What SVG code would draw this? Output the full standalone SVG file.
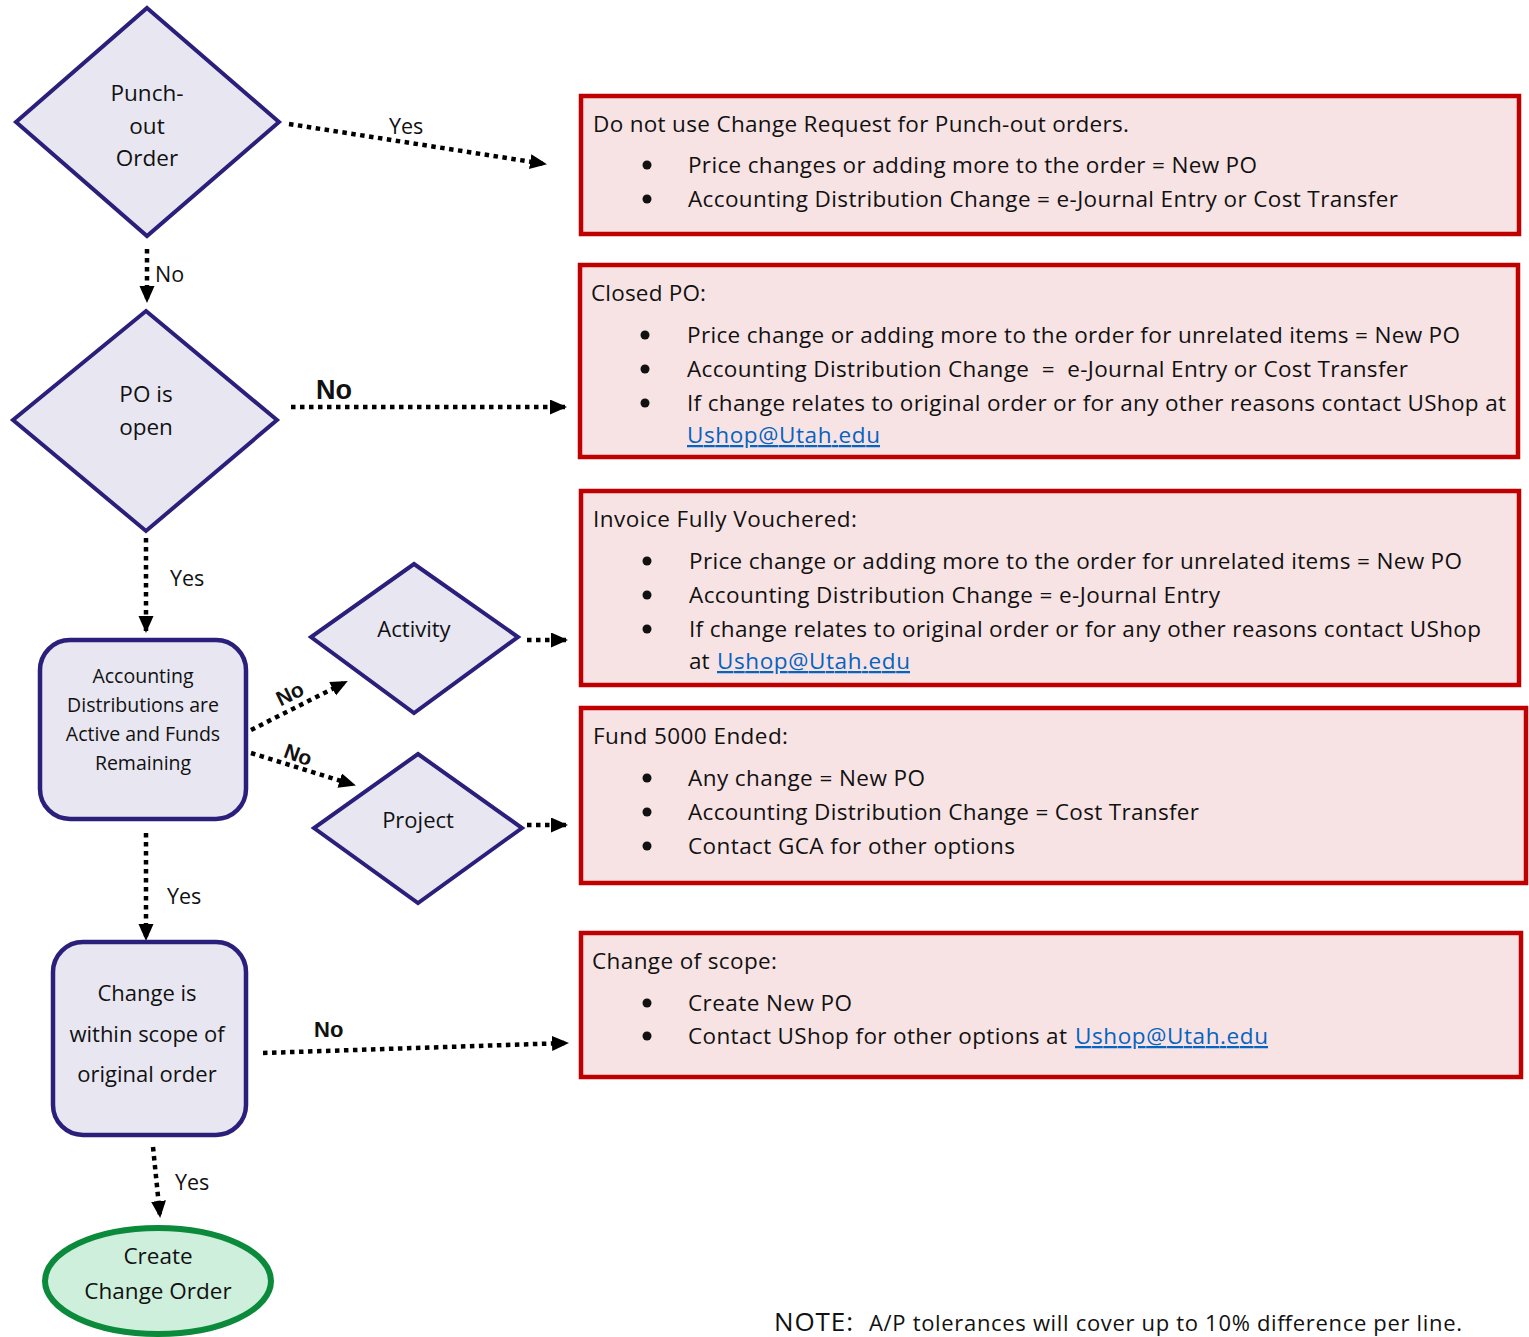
<svg xmlns="http://www.w3.org/2000/svg" width="1529" height="1337" viewBox="0 0 1529 1337">
<style>
.dec{fill:#E8E7F1;stroke:#2A1F7A;stroke-width:4;stroke-linejoin:miter}
.proc{fill:#E8E7F1;stroke:#2A1F7A;stroke-width:4.5}
.note{fill:#F8E3E4;stroke:#C00000;stroke-width:4.5}
.end{fill:#CDEFDB;stroke:#0B8A3C;stroke-width:6}
.t{font-family:"Open Sans","Noto Sans",sans-serif;fill:#111}
.c{text-anchor:middle}
.bx{font-size:22.5px}
.lnk{fill:#0563C1;text-decoration:underline}
.lbl{font-family:"Open Sans","Noto Sans",sans-serif;font-size:21.5px;fill:#111}
.bl{font-family:"Liberation Sans",Arial,sans-serif;font-weight:bold;fill:#111}
.con{fill:none;stroke:#000;stroke-width:4.5;stroke-dasharray:4.5 4.5;marker-end:url(#ah)}
.dot{fill:#111}
</style>
<defs>
<marker id="ah" markerUnits="userSpaceOnUse" markerWidth="18" markerHeight="16" refX="15" refY="7.5" orient="auto">
<path d="M0,0 L17,7.5 L0,15 z" fill="#000"/>
</marker>
</defs>
<rect width="1529" height="1337" fill="#fff"/>

<g id="connectors">
<line class="con" x1="289" y1="124" x2="545" y2="164"/>
<line class="con" x1="147" y1="249" x2="147" y2="301"/>
<line class="con" x1="291" y1="407" x2="565" y2="407"/>
<line class="con" x1="146" y1="538" x2="146" y2="631"/>
<line class="con" x1="251" y1="730" x2="346" y2="682"/>
<line class="con" x1="251" y1="753" x2="354" y2="785"/>
<line class="con" x1="527" y1="640" x2="566" y2="640"/>
<line class="con" x1="527" y1="825" x2="566" y2="825"/>
<line class="con" x1="146" y1="833" x2="146" y2="939"/>
<line class="con" x1="263" y1="1053" x2="567" y2="1043"/>
<line class="con" x1="153" y1="1147" x2="160" y2="1216"/>
<text class="lbl" x="389" y="134">Yes</text>
<text class="lbl" x="155" y="282">No</text>
<text class="bl" x="316" y="399" font-size="27">No</text>
<text class="lbl" x="170" y="586">Yes</text>
<text class="bl" x="290" y="701" font-size="21" text-anchor="middle" transform="rotate(-26 290 694)">No</text>
<text class="bl" x="298" y="762" font-size="21" text-anchor="middle" transform="rotate(20 298 755)">No</text>
<text class="lbl" x="167" y="904">Yes</text>
<text class="bl" x="314" y="1037" font-size="22">No</text>
<text class="lbl" x="175" y="1190">Yes</text>
</g>

<g id="punchout">
<polygon class="dec" points="147,8 279,122 147,236 16,122"/>
<text class="t c" x="147" y="101" font-size="22.5">Punch-</text>
<text class="t c" x="147" y="134" font-size="22.5">out</text>
<text class="t c" x="147" y="166" font-size="22.5">Order</text>
</g>

<g id="po-open">
<polygon class="dec" points="146,311 277,420 146,531 13,420"/>
<text class="t c" x="146" y="402" font-size="22.5">PO is</text>
<text class="t c" x="146" y="435" font-size="22.5">open</text>
</g>

<g id="accounting">
<rect class="proc" x="40" y="640" width="206" height="179" rx="30"/>
<text class="t c" x="143" y="683" font-size="19.5">Accounting</text>
<text class="t c" x="143" y="712" font-size="19.5">Distributions are</text>
<text class="t c" x="143" y="741" font-size="19.5">Active and Funds</text>
<text class="t c" x="143" y="770" font-size="19.5">Remaining</text>
</g>

<g id="activity">
<polygon class="dec" points="414,564 518,637 414,713 311,637"/>
<text class="t c" x="414" y="637" font-size="22">Activity</text>
</g>

<g id="project">
<polygon class="dec" points="418,754 522,828 418,903 314,828"/>
<text class="t c" x="418" y="828" font-size="22">Project</text>
</g>

<g id="scope">
<rect class="proc" x="53" y="942" width="193" height="193" rx="30"/>
<text class="t c" x="147" y="1001" font-size="22">Change is</text>
<text class="t c" x="147" y="1042" font-size="22">within scope of</text>
<text class="t c" x="147" y="1082" font-size="22">original order</text>
</g>

<g id="create">
<ellipse class="end" cx="158" cy="1281" rx="113" ry="53"/>
<text class="t c" x="158" y="1264" font-size="22.5">Create</text>
<text class="t c" x="158" y="1299" font-size="22.5">Change Order</text>
</g>

<g id="note-punchout">
<rect class="note" x="581" y="96" width="938" height="138"/>
<text class="t bx" x="593" y="132" textLength="536">Do not use Change Request for Punch-out orders.</text>
<circle class="dot" cx="647" cy="165" r="4.5"/>
<text class="t bx" x="688" y="173" textLength="569">Price changes or adding more to the order = New PO</text>
<circle class="dot" cx="647" cy="199" r="4.5"/>
<text class="t bx" x="688" y="207" textLength="710">Accounting Distribution Change = e-Journal Entry or Cost Transfer</text>
</g>

<g id="note-closed">
<rect class="note" x="580" y="265" width="938" height="192"/>
<text class="t bx" x="591" y="301" textLength="115">Closed PO:</text>
<circle class="dot" cx="645" cy="335" r="4.5"/>
<text class="t bx" x="687" y="343" textLength="773">Price change or adding more to the order for unrelated items = New PO</text>
<circle class="dot" cx="645" cy="369" r="4.5"/>
<text class="t bx" x="687" y="377" textLength="721" xml:space="preserve">Accounting Distribution Change  =  e-Journal Entry or Cost Transfer</text>
<circle class="dot" cx="645" cy="403" r="4.5"/>
<text class="t bx" x="687" y="411" textLength="819">If change relates to original order or for any other reasons contact UShop at</text>
<text class="t bx lnk" x="687" y="443" textLength="193">Ushop@Utah.edu</text>
</g>

<g id="note-invoice">
<rect class="note" x="581" y="491" width="938" height="194"/>
<text class="t bx" x="593" y="527" textLength="264">Invoice Fully Vouchered:</text>
<circle class="dot" cx="647" cy="561" r="4.5"/>
<text class="t bx" x="689" y="569" textLength="773">Price change or adding more to the order for unrelated items = New PO</text>
<circle class="dot" cx="647" cy="595" r="4.5"/>
<text class="t bx" x="689" y="603" textLength="531">Accounting Distribution Change = e-Journal Entry</text>
<circle class="dot" cx="647" cy="629" r="4.5"/>
<text class="t bx" x="689" y="637" textLength="792">If change relates to original order or for any other reasons contact UShop</text>
<text class="t bx" x="689" y="669">at</text>
<text class="t bx lnk" x="717" y="669" textLength="193">Ushop@Utah.edu</text>
</g>

<g id="note-fund">
<rect class="note" x="581" y="708" width="945" height="175"/>
<text class="t bx" x="593" y="744" textLength="195">Fund 5000 Ended:</text>
<circle class="dot" cx="647" cy="778" r="4.5"/>
<text class="t bx" x="688" y="786" textLength="237">Any change = New PO</text>
<circle class="dot" cx="647" cy="812" r="4.5"/>
<text class="t bx" x="688" y="820" textLength="511">Accounting Distribution Change = Cost Transfer</text>
<circle class="dot" cx="647" cy="846" r="4.5"/>
<text class="t bx" x="688" y="854" textLength="327">Contact GCA for other options</text>
</g>

<g id="note-scope">
<rect class="note" x="581" y="933" width="940" height="144"/>
<text class="t bx" x="592" y="969" textLength="185">Change of scope:</text>
<circle class="dot" cx="647" cy="1003" r="4.5"/>
<text class="t bx" x="688" y="1011" textLength="164">Create New PO</text>
<circle class="dot" cx="647" cy="1036" r="4.5"/>
<text class="t bx" x="688" y="1044" textLength="379">Contact UShop for other options at</text>
<text class="t bx lnk" x="1075" y="1044" textLength="193">Ushop@Utah.edu</text>
</g>

<g id="footnote">
<text class="t" x="774" y="1331" font-size="26" textLength="79">NOTE:</text>
<text class="t" x="869" y="1331" font-size="22" textLength="593">A/P tolerances will cover up to 10% difference per line.</text>
</g>
</svg>
